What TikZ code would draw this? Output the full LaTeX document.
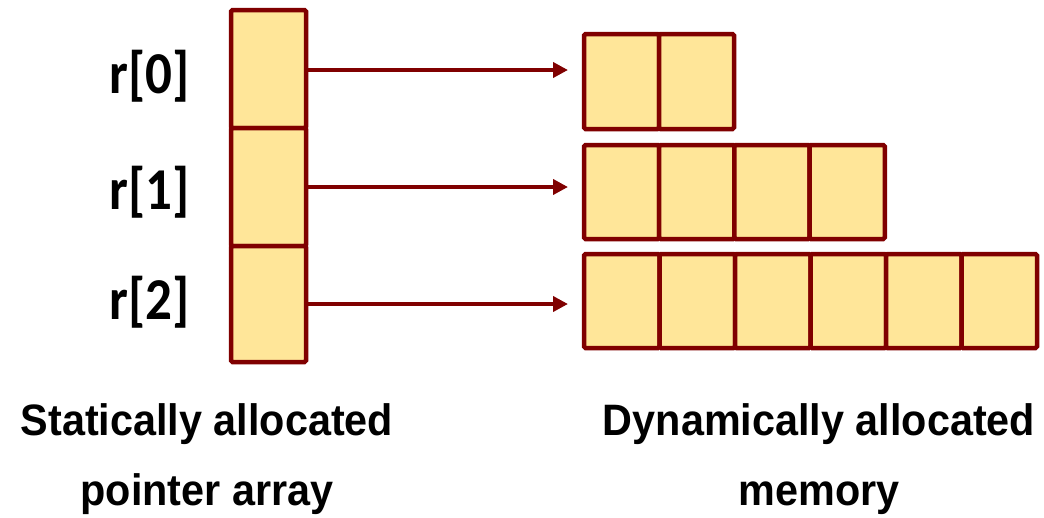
\documentclass[tikz,border=0pt]{standalone}
\usepackage{fontspec}
\setmainfont{Liberation Sans}
\newfontfamily\lblfont{Carlito}[UprightFont=* Bold]
\newfontfamily\capfont{Liberation Sans}[UprightFont=* Bold, FakeStretch=0.94]
\usetikzlibrary{arrows.meta}
\definecolor{cellfill}{HTML}{FFE699}
\definecolor{cellline}{HTML}{800000}
\tikzset{
  cellbox/.style={draw=cellline, fill=cellfill, line width=4.5pt, rounded corners=1.5pt},
  ptrarrow/.style={draw=cellline, line width=4pt, -{Triangle[length=15pt,width=15pt]}},
  idxlabel/.style={font=\lblfont\fontsize{53}{60}\selectfont, inner sep=0pt},
  caption/.style={font=\capfont\fontsize{44}{70}\selectfont, align=center, inner sep=0pt}
}
\begin{document}
\begin{tikzpicture}[x=1pt,y=-1pt]
\useasboundingbox (0,0) rectangle (1044,517);
% pointer array
\foreach \i/\t/\b in {0/10/128,1/128/246,2/246/362}{
  \path[cellbox] (231,\t) rectangle (306,\b);
}
% dynamic rows
\foreach \k in {0,1}{
  \path[cellbox] ({584+\k*75},34) rectangle ({659+\k*75},129);
}
\foreach \k in {0,...,3}{
  \path[cellbox] ({584+\k*75.2},145) rectangle ({659.2+\k*75.2},239);
}
\foreach \k in {0,...,5}{
  \path[cellbox] ({584+\k*75.5},254) rectangle ({659.5+\k*75.5},348);
}
\coordinate (e0) at (568,70);
\coordinate (e1) at (568,187);
\coordinate (e2) at (568,304);
\coordinate (s0) at (306,70);
\coordinate (s1) at (306,187);
\coordinate (s2) at (306,304);
\draw[ptrarrow] (s0) -- (e0);
\draw[ptrarrow] (s1) -- (e1);
\draw[ptrarrow] (s2) -- (e2);
\node[idxlabel] (l0) at (150,76) {\scalebox{1}[1.12]{r[0]}};
\node[idxlabel] (l1) at (150,192.5) {\scalebox{1}[1.12]{r[1]}};
\node[idxlabel] (l2) at (150,302.5) {\scalebox{1}[1.12]{r[2]}};
\node[caption, anchor=base] (c1) at (207,505) {Statically allocated\\pointer array};
\node[caption, anchor=base] (c2) at (819,505) {Dynamically allocated\\memory};
\end{tikzpicture}
\end{document}
